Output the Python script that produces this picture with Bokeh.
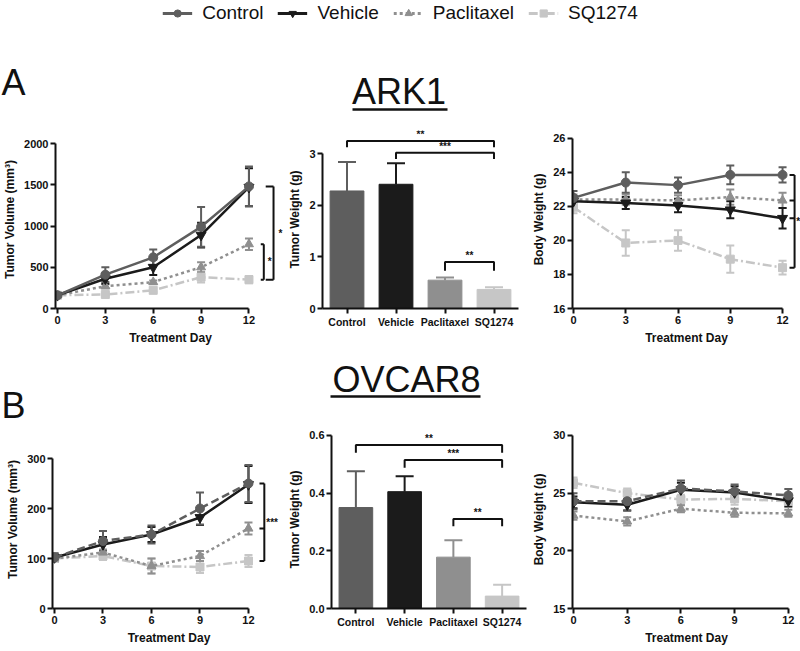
from bokeh.plotting import figure
from bokeh.models import (Range1d, FixedTicker, Whisker, TeeHead, ColumnDataSource,
                          Legend, LegendItem, Label, NumeralTickFormatter)
from bokeh.layouts import column, row
from bokeh.embed import file_html
from bokeh.resources import INLINE
from bokeh.core.properties import value

# ---------------- data ----------------
series = ["Control", "Vehicle", "Paclitaxel", "SQ1274"]
days = [0, 3, 6, 9, 12]

# ARK1 tumour volume (mm3)
ark1_vol_control = [160, 410, 620, 990, 1480]
ark1_vol_control_err = [15, 90, 95, 240, 240]
ark1_vol_vehicle = [160, 360, 500, 890, 1470]
ark1_vol_vehicle_err = [15, 60, 95, 150, 230]
ark1_vol_paclitaxel = [160, 270, 320, 500, 780]
ark1_vol_paclitaxel_err = [15, 25, 20, 60, 70]
ark1_vol_sq1274 = [160, 170, 220, 380, 350]
ark1_vol_sq1274_err = [15, 15, 20, 65, 45]

# ARK1 tumour weight (g)
ark1_weight = [2.28, 2.41, 0.55, 0.37]
ark1_weight_err = [0.56, 0.41, 0.05, 0.04]

# ARK1 body weight (g)
ark1_bw_control = [22.5, 23.4, 23.25, 23.85, 23.85]
ark1_bw_control_err = [0.4, 0.6, 0.45, 0.55, 0.45]
ark1_bw_vehicle = [22.3, 22.2, 22.05, 21.8, 21.3]
ark1_bw_vehicle_err = [0.3, 0.35, 0.4, 0.5, 0.6]
ark1_bw_paclitaxel = [22.4, 22.4, 22.35, 22.55, 22.35]
ark1_bw_paclitaxel_err = [0.3, 0.3, 0.3, 0.45, 0.45]
ark1_bw_sq1274 = [21.95, 19.85, 20.0, 18.9, 18.4]
ark1_bw_sq1274_err = [0.35, 0.75, 0.6, 0.8, 0.4]

# OVCAR8 tumour volume (mm3)
ovcar8_vol_control = [102, 135, 148, 200, 250]
ovcar8_vol_control_err = [8, 20, 18, 32, 37]
ovcar8_vol_vehicle = [102, 128, 148, 182, 248]
ovcar8_vol_vehicle_err = [8, 15, 15, 15, 37]
ovcar8_vol_paclitaxel = [100, 112, 85, 105, 160]
ovcar8_vol_paclitaxel_err = [6, 6, 15, 10, 12]
ovcar8_vol_sq1274 = [100, 105, 85, 83, 95]
ovcar8_vol_sq1274_err = [6, 8, 15, 12, 12]

# OVCAR8 tumour weight (g)
ovcar8_weight = [0.35, 0.405, 0.178, 0.043]
ovcar8_weight_err = [0.126, 0.053, 0.059, 0.039]

# OVCAR8 body weight (g)
ovcar8_bw_control = [24.3, 24.3, 25.4, 25.15, 24.8]
ovcar8_bw_control_err = [0.7, 0.8, 0.7, 0.6, 0.55]
ovcar8_bw_vehicle = [24.2, 24.0, 25.3, 25.05, 24.35]
ovcar8_bw_vehicle_err = [0.5, 0.5, 0.6, 0.55, 0.5]
ovcar8_bw_paclitaxel = [23.05, 22.55, 23.65, 23.3, 23.25]
ovcar8_bw_paclitaxel_err = [0.35, 0.35, 0.3, 0.35, 0.3]
ovcar8_bw_sq1274 = [25.9, 25.0, 24.45, 24.5, 24.3]
ovcar8_bw_sq1274_err = [0.45, 0.4, 0.4, 0.5, 0.45]

vol_ticks_ark1 = [0, 500, 1000, 1500, 2000]
bw_ticks_ark1 = [16, 18, 20, 22, 24, 26]
weight_ticks_ark1 = [0, 1, 2, 3]
vol_ticks_ovcar8 = [0, 100, 200, 300]
bw_ticks_ovcar8 = [15, 20, 25, 30]
weight_ticks_ovcar8 = [0.0, 0.2, 0.4, 0.6]

# ---------------- styles ----------------
COLORS = {"Control": "#5e5e5e", "Vehicle": "#1b1b1b", "Paclitaxel": "#8f8f8f", "SQ1274": "#c6c6c6"}
MARKERS = {"Control": "circle", "Vehicle": "inverted_triangle", "Paclitaxel": "triangle", "SQ1274": "square"}
MSIZE = {"Control": 9, "Vehicle": 10, "Paclitaxel": 9, "SQ1274": 8}
DASH_A = {"Control": "solid", "Vehicle": "solid", "Paclitaxel": "3 3", "SQ1274": "9 3 2 3"}
DASH_B = {"Control": "8 4", "Vehicle": "solid", "Paclitaxel": "3 3", "SQ1274": "9 3 2 3"}
DRAW_ORDER = ["SQ1274", "Paclitaxel", "Vehicle", "Control"]
TICK_FONT = "Liberation Sans"
TITLE_FONT = "Liberation Sans"
INK = "#111111"
PAD_A = 6  # blank band above plot row A so annotations near its top are not clipped
PAD_B = 0


def make_fig(width, height, mb, xr, yr):
    p = figure(width=width, height=height, x_range=xr, y_range=yr,
               toolbar_location=None, output_backend="svg",
               min_border_left=mb[0], min_border_right=mb[1],
               min_border_top=mb[2], min_border_bottom=mb[3])
    p.grid.visible = False
    p.outline_line_color = None
    p.background_fill_color = "white"
    p.border_fill_color = "white"
    return p


def style_axes(p, tick_size="11px"):
    for ax in p.axis:
        ax.axis_line_width = 2
        ax.axis_line_color = INK
        ax.major_tick_line_width = 2
        ax.major_tick_line_color = INK
        ax.major_tick_out = 5
        ax.major_tick_in = 0
        ax.minor_tick_line_color = None
        ax.major_label_text_font = TICK_FONT
        ax.major_label_text_font_style = "bold"
        ax.major_label_text_font_size = tick_size
        ax.major_label_text_color = INK
        ax.major_label_standoff = 2
        ax.axis_label_text_font = TICK_FONT
        ax.axis_label_text_font_style = "bold"
        ax.axis_label_text_font_size = "12px"
        ax.axis_label_text_color = INK
        ax.axis_label_standoff = 4


def line_panel(width, height, mb, xr, yr, y_ticks, ylabel, data, dashes, brackets):
    p = make_fig(width, height, mb, Range1d(*xr), Range1d(*yr))
    for s in DRAW_ORDER:
        vals, errs = data[s]
        c = COLORS[s]
        src = ColumnDataSource(dict(x=days, y=vals,
                                    lo=[v - e for v, e in zip(vals, errs)],
                                    hi=[v + e for v, e in zip(vals, errs)]))
        p.line("x", "y", source=src, line_color=c, line_width=2.5, line_dash=dashes[s])
        p.add_layout(Whisker(source=src, base="x", lower="lo", upper="hi",
                             line_color=c, line_width=2,
                             upper_head=TeeHead(size=8, line_color=c, line_width=2),
                             lower_head=TeeHead(size=8, line_color=c, line_width=2)))
        p.scatter("x", "y", source=src, marker=MARKERS[s], size=MSIZE[s],
                  fill_color=c, line_color=c)
    for (x_tick, x_vert, ys, star, x_star) in brackets:
        xs_list = [[x_vert, x_vert]] + [[x_tick, x_vert] for _ in ys]
        ys_list = [[min(ys), max(ys)]] + [[y, y] for y in ys]
        p.multi_line(xs_list, ys_list, line_color=INK, line_width=2)
        p.text(x=[x_star], y=[(max(ys) + min(ys)) / 2], text=[star],
               text_font=value(TICK_FONT), text_font_style="bold",
               text_font_size="10px", text_color=INK,
               text_align="left", text_baseline="middle")
    p.xaxis.ticker = FixedTicker(ticks=days)
    p.yaxis.ticker = FixedTicker(ticks=y_ticks)
    p.xaxis.bounds = (xr[0], days[-1])
    p.yaxis.bounds = (y_ticks[0], y_ticks[-1])
    p.xaxis.axis_label = "Treatment Day"
    p.yaxis.axis_label = ylabel
    style_axes(p)
    return p


def bar_panel(width, height, mb, yr, y_ticks, vals, errs, brackets, fmt=None):
    xs = [i + 0.5 for i in range(len(series))]
    p = make_fig(width, height, mb, Range1d(0, len(series)), Range1d(*yr))
    cols = [COLORS[s] for s in series]
    p.vbar(x=xs, top=vals, width=0.69, fill_color=cols, line_color=cols)
    src = ColumnDataSource(dict(x=xs, lo=vals, hi=[v + e for v, e in zip(vals, errs)], c=cols))
    p.add_layout(Whisker(source=src, base="x", lower="lo", upper="hi",
                         line_color="c", line_width=2,
                         upper_head=TeeHead(size=18, line_color="c", line_width=2),
                         lower_head=None))
    for (i, j, y, drop, star) in brackets:
        p.multi_line([[xs[i], xs[i], xs[j], xs[j]]], [[y - drop, y, y, y - drop]],
                     line_color=INK, line_width=2)
        p.text(x=[(xs[i] + xs[j]) / 2], y=[y], text=[star], y_offset=-1,
               text_font=value(TICK_FONT), text_font_style="bold",
               text_font_size="10px", text_color=INK,
               text_align="center", text_baseline="bottom")
    p.xaxis.ticker = FixedTicker(ticks=xs)
    p.xaxis.major_label_overrides = {x: s for x, s in zip(xs, series)}
    p.yaxis.ticker = FixedTicker(ticks=y_ticks)
    p.yaxis.bounds = (y_ticks[0], y_ticks[-1])
    if fmt:
        p.yaxis.formatter = NumeralTickFormatter(format=fmt)
    p.yaxis.axis_label = "Tumor Weight (g)"
    style_axes(p)
    p.xaxis.major_label_text_font_size = "10.5px"
    return p


def header(width, height):
    p = figure(width=width, height=height, x_range=Range1d(0, width), y_range=Range1d(0, height),
               toolbar_location=None, output_backend="svg", min_border=0)
    p.axis.visible = False
    p.grid.visible = False
    p.outline_line_color = None
    return p


# ---------------- header A (legend, "A", "ARK1") ----------------
W = 800
HA = 130 - PAD_A
hA = header(W, HA)
items = []
for s in series:
    # legend-only renderers, kept outside the visible range
    rl = hA.line([-60, -50], [-60, -50], line_color=COLORS[s], line_width=3, line_dash=DASH_A[s])
    rs = hA.scatter([-60], [-60], marker=MARKERS[s], size=MSIZE[s],
                    fill_color=COLORS[s], line_color=COLORS[s])
    items.append(LegendItem(label=s, renderers=[rl, rs]))
leg = Legend(items=items, orientation="horizontal", location="top_center",
             label_text_font=TITLE_FONT, label_text_font_size="19px", label_text_color=INK,
             glyph_width=30, glyph_height=18, label_standoff=10, spacing=14,
             padding=0, margin=2, border_line_color=None, background_fill_alpha=0)
hA.add_layout(leg)
hA.add_layout(Label(x=1, y=HA - 81.5, text="A", text_font=TITLE_FONT, text_font_size="36px",
                    text_color=INK, text_baseline="middle"))
hA.add_layout(Label(x=398.5, y=HA - 90.5, text="ARK1", text_font=TITLE_FONT, text_font_size="36px",
                    text_color=INK, text_align="center", text_baseline="middle"))
hA.segment(x0=[352], y0=[HA - 109], x1=[447], y1=[HA - 109], line_color=INK, line_width=2.5)

# ---------------- row A (frames start at page y = 130) ----------------
dataA_vol = {"Control": (ark1_vol_control, ark1_vol_control_err),
             "Vehicle": (ark1_vol_vehicle, ark1_vol_vehicle_err),
             "Paclitaxel": (ark1_vol_paclitaxel, ark1_vol_paclitaxel_err),
             "SQ1274": (ark1_vol_sq1274, ark1_vol_sq1274_err)}
f1 = line_panel(285, 220 + PAD_A, (52, 0, PAD_A, 42), (-0.124, 14.29), (0, 2157.6), vol_ticks_ark1,
                "Tumor Volume (mm³)", dataA_vol, DASH_A,
                [(13.05, 13.54, [ark1_vol_control[-1], ark1_vol_sq1274[-1]], "*", 13.85),
                 (12.74, 12.93, [ark1_vol_paclitaxel[-1], ark1_vol_sq1274[-1]], "*", 13.17)])

f2 = bar_panel(235, 220 + PAD_A, (36, 2, PAD_A, 37), (0, 3.453), weight_ticks_ark1, ark1_weight, ark1_weight_err,
               [(0, 3, 3.25, 0.12, "**"), (1, 3, 3.02, 0.12, "***"), (2, 3, 0.9, 0.17, "**")])

dataA_bw = {"Control": (ark1_bw_control, ark1_bw_control_err),
            "Vehicle": (ark1_bw_vehicle, ark1_bw_vehicle_err),
            "Paclitaxel": (ark1_bw_paclitaxel, ark1_bw_paclitaxel_err),
            "SQ1274": (ark1_bw_sq1274, ark1_bw_sq1274_err)}
f3 = line_panel(280, 220 + PAD_A, (52, 0, PAD_A, 39), (-0.057, 13.03), (16, 26.46), bw_ticks_ark1,
                "Body Weight (g)", dataA_bw, DASH_A,
                [(12.4, 12.69, [ark1_bw_control[-1], ark1_bw_paclitaxel[-1],
                                ark1_bw_vehicle[-1], ark1_bw_sq1274[-1]], "*", 12.78)])

# ---------------- header B (page y 350 .. 430-PAD_B) ----------------
HB = 80 - PAD_B
hB = header(W, HB)
hB.add_layout(Label(x=1, y=430 - PAD_B - 405, text="B", text_font=TITLE_FONT, text_font_size="36px",
                    text_color=INK, text_baseline="middle"))
hB.add_layout(Label(x=406, y=430 - PAD_B - 378.5, text="OVCAR8", text_font=TITLE_FONT, text_font_size="36px",
                    text_color=INK, text_align="center", text_baseline="middle"))
hB.segment(x0=[330], y0=[430 - PAD_B - 396], x1=[480], y1=[430 - PAD_B - 396], line_color=INK, line_width=2.5)

# ---------------- row B (frames start at page y = 430) ----------------
dataB_vol = {"Control": (ovcar8_vol_control, ovcar8_vol_control_err),
             "Vehicle": (ovcar8_vol_vehicle, ovcar8_vol_vehicle_err),
             "Paclitaxel": (ovcar8_vol_paclitaxel, ovcar8_vol_paclitaxel_err),
             "SQ1274": (ovcar8_vol_sq1274, ovcar8_vol_sq1274_err)}
f4 = line_panel(285, 221 + PAD_B, (52, 0, PAD_B, 43), (-0.124, 14.29), (0, 356), vol_ticks_ovcar8,
                "Tumor Volume (mm³)", dataB_vol, DASH_B,
                [(12.68, 12.98, [ovcar8_vol_control[-1], ovcar8_vol_paclitaxel[-1],
                                 ovcar8_vol_sq1274[-1]], "***", 13.1)])

f5 = bar_panel(243, 221 + PAD_B, (44, 2, PAD_B, 41), (0, 0.617), weight_ticks_ovcar8, ovcar8_weight, ovcar8_weight_err,
               [(0, 3, 0.567, 0.027, "**"), (1, 3, 0.515, 0.027, "***"), (2, 3, 0.31, 0.025, "**")],
               fmt="0.0")

dataB_bw = {"Control": (ovcar8_bw_control, ovcar8_bw_control_err),
            "Vehicle": (ovcar8_bw_vehicle, ovcar8_bw_vehicle_err),
            "Paclitaxel": (ovcar8_bw_paclitaxel, ovcar8_bw_paclitaxel_err),
            "SQ1274": (ovcar8_bw_sq1274, ovcar8_bw_sq1274_err)}
f6 = line_panel(272, 221 + PAD_B, (44, 0, PAD_B, 42), (-0.056, 12.68), (15, 30.43), bw_ticks_ovcar8,
                "Body Weight (g)", dataB_bw, DASH_B, [])

layout = column(hA, row(f1, f2, f3, spacing=0), hB, row(f4, f5, f6, spacing=0), spacing=0)

open("out.html", "w").write(file_html(layout, INLINE))
